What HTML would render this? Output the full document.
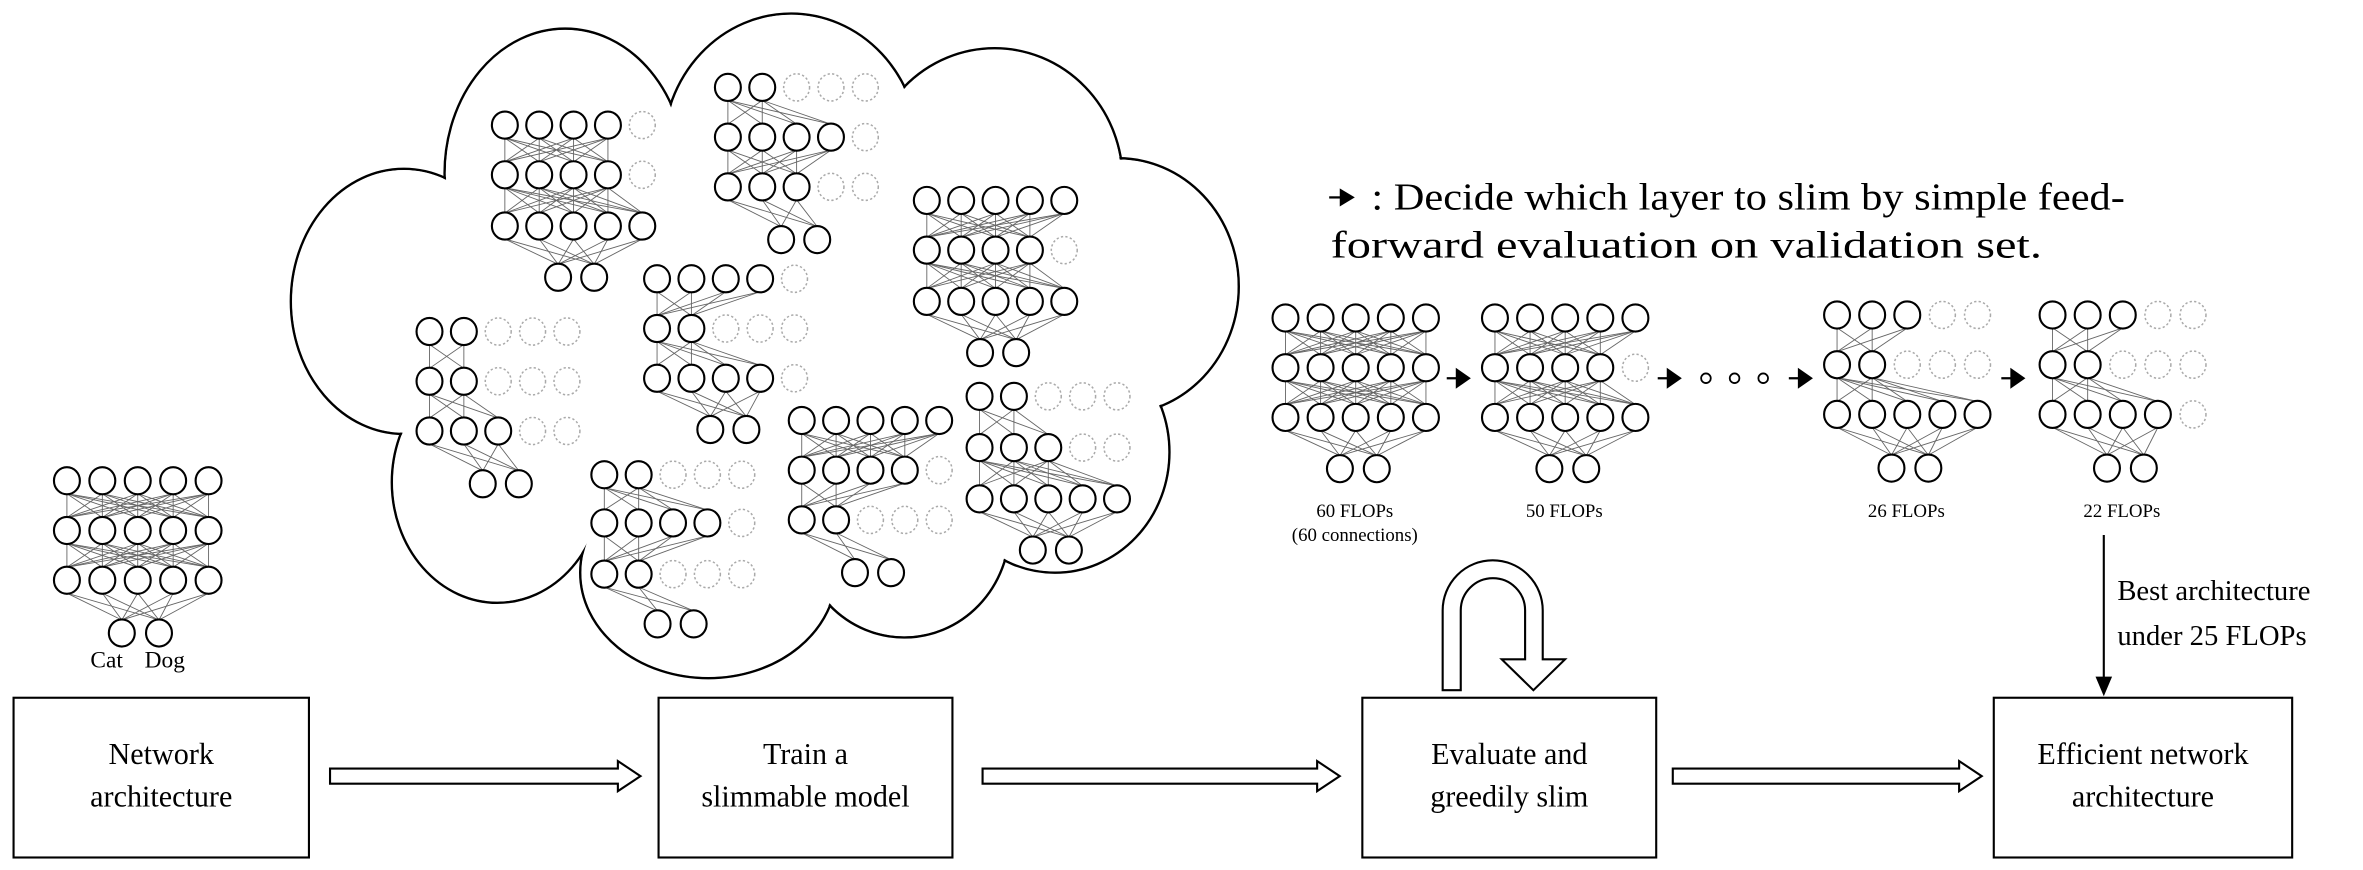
<!DOCTYPE html>
<html><head><meta charset="utf-8"><style>
html,body{margin:0;padding:0;background:#fff;}
svg{display:block;}
text{font-family:"Liberation Serif",serif;fill:#000;}
</style></head><body>
<svg id="s" xmlns="http://www.w3.org/2000/svg" width="2363" height="870" viewBox="0 0 1568 577.3">
<g id="cloud"></g>
<g id="nets"></g>
<g fill="none" stroke="#000" stroke-width="1.4">
<rect x="9" y="463" width="196" height="106"/>
<rect x="437" y="463" width="195" height="106"/>
<rect x="904" y="463" width="195" height="106"/>
<rect x="1323" y="463" width="198" height="106"/>
</g>
<g font-size="20" text-anchor="middle">
<text x="107" y="507">Network</text><text x="107" y="535">architecture</text>
<text x="534.5" y="507">Train a</text><text x="534.5" y="535">slimmable model</text>
<text x="1001.5" y="507">Evaluate and</text><text x="1001.5" y="535">greedily slim</text>
<text x="1422" y="507">Efficient network</text><text x="1422" y="535">architecture</text>
</g>
<g fill="#fff" stroke="#000" stroke-width="1.4">
<path d="M219,510 L410,510 L410,505 L425,515 L410,525 L410,520 L219,520 Z"/>
<path d="M652,510 L874,510 L874,505 L889,515 L874,525 L874,520 L652,520 Z"/>
<path d="M1110,510 L1300,510 L1300,505 L1315,515 L1300,525 L1300,520 L1110,520 Z"/>
<path d="M957.3,458 L957.3,405 A33.2,33.2 0 0 1 1023.7,405 L1023.7,437.5 L1038.5,437.5 L1017.5,458 L996.5,437.5 L1012,437.5 L1012,405 A21.35,21.35 0 0 0 969.3,405 L969.3,458 Z"/>
</g>
<line x1="1396" y1="355" x2="1396" y2="450" stroke="#000" stroke-width="1.4"/>
<path d="M1390.5,449 L1401.5,449 L1396,462 Z" fill="#000"/>
<g font-size="19"><text x="1405" y="398">Best architecture</text><text x="1405" y="428">under 25 FLOPs</text></g>
<line x1="882" y1="131" x2="890" y2="131" stroke="#000" stroke-width="1.5"/>
<path d="M889,125 L899,131 L889,137 Z" fill="#000"/>
<g font-size="25"><text x="910" y="139" textLength="500" lengthAdjust="spacingAndGlyphs">: Decide which layer to slim by simple feed-</text><text x="883" y="171" textLength="472" lengthAdjust="spacingAndGlyphs">forward evaluation on validation set.</text></g>
<g id="arrows"></g>
<g fill="none" stroke="#000" stroke-width="1.2">
<circle cx="1132" cy="251" r="3.2"/><circle cx="1151" cy="251" r="3.2"/><circle cx="1170" cy="251" r="3.2"/>
</g>
<g font-size="12.5" text-anchor="middle">
<text x="899" y="343">60  FLOPs</text><text x="899" y="359">(60 connections)</text>
<text x="1038" y="343">50 FLOPs</text>
<text x="1265" y="343">26 FLOPs</text>
<text x="1408" y="343">22 FLOPs</text>
</g>
<g font-size="15.5"><text x="60" y="443">Cat</text><text x="96" y="443">Dog</text></g>
</svg>
<script>
var NS="http://www.w3.org/2000/svg";
function el(p,t,a){var e=document.createElementNS(NS,t);for(var k in a)e.setAttribute(k,a[k]);p.appendChild(e);return e;}
var cg=document.getElementById('cloud');
var E=[[268,200,75,88],[330,320,70,80],[470,380,85,70],[600,350,70,73],[700,300,76,80],[742,190,80,85],[660,120,85,88],[525,100,85,91],[375,115,80,96]];
E.forEach(function(e){el(cg,'ellipse',{cx:e[0],cy:e[1],rx:e[2],ry:e[3],fill:'none',stroke:'#000','stroke-width':1.6});});
E.forEach(function(e){el(cg,'ellipse',{cx:e[0],cy:e[1],rx:e[2]-0.9,ry:e[3]-0.9,fill:'#fff'});});
el(cg,'ellipse',{cx:505,cy:230,rx:215,ry:150,fill:'#fff'});
var ng=document.getElementById('nets');
function net(x0,ys,yo,counts,dx,o1,o2){
 dx=dx||23.3;var r=8.6;
 var ox=[x0+(o1||1.55)*dx,x0+(o2||2.6)*dx];
 var lg=el(ng,'g',{stroke:'#666','stroke-width':0.6});
 for(var i=0;i<3;i++){
  var n=counts[i];
  if(i<2){var m=counts[i+1];
   for(var a=0;a<n;a++)for(var b=0;b<m;b++)el(lg,'line',{x1:x0+a*dx,y1:ys[i]+r,x2:x0+b*dx,y2:ys[i+1]-r});
  } else {
   for(var a=0;a<n;a++)for(var b=0;b<2;b++)el(lg,'line',{x1:x0+a*dx,y1:ys[i]+r,x2:ox[b],y2:yo-r});
  }
 }
 for(var i=0;i<3;i++)for(var j=0;j<5;j++){
  if(j<counts[i])el(ng,'ellipse',{cx:x0+j*dx,cy:ys[i],rx:r,ry:r+0.4,fill:'#fff',stroke:'#000','stroke-width':1.4});
  else el(ng,'ellipse',{cx:x0+j*dx,cy:ys[i],rx:r,ry:r+0.4,fill:'none',stroke:'#aaa','stroke-width':1,'stroke-dasharray':'1.5 1.5'});
 }
 ox.forEach(function(x){el(ng,'ellipse',{cx:x,cy:yo,rx:r,ry:r+0.4,fill:'#fff',stroke:'#000','stroke-width':1.4});});
}
net(44.4,[319,352,385],420,[5,5,5],23.5);
net(335,[83,116,150],184,[4,4,5],22.8);
net(483,[58,91,124],159,[2,4,3],22.8);
net(615,[133,166,200],234,[5,4,5],22.8);
net(436,[185,218,251],285,[4,2,4],22.8);
net(285,[220,253,286],321,[2,2,3],22.8);
net(532,[279,312,345],380,[5,4,2],22.8);
net(650,[263,297,331],365,[2,3,5],22.8);
net(401,[315,347,381],414,[2,4,2],22.8);
net(853,[211,244,277],311,[5,5,5],23.3);
net(992,[211,244,277],311,[5,4,5],23.3);
net(1219,[209,242,275],310.6,[3,2,5],23.3);
net(1362,[209,242,275],310.6,[3,2,4],23.3);
var ag=document.getElementById('arrows');
[[960,251],[1100,251],[1187,251],[1328,251]].forEach(function(p){
 el(ag,'line',{x1:p[0],y1:p[1],x2:p[0]+7,y2:p[1],stroke:'#000','stroke-width':1.5});
 el(ag,'path',{d:'M'+(p[0]+6)+','+(p[1]-7)+' L'+(p[0]+16)+','+p[1]+' L'+(p[0]+6)+','+(p[1]+7)+' Z',fill:'#000'});
});
</script>
</body></html>
